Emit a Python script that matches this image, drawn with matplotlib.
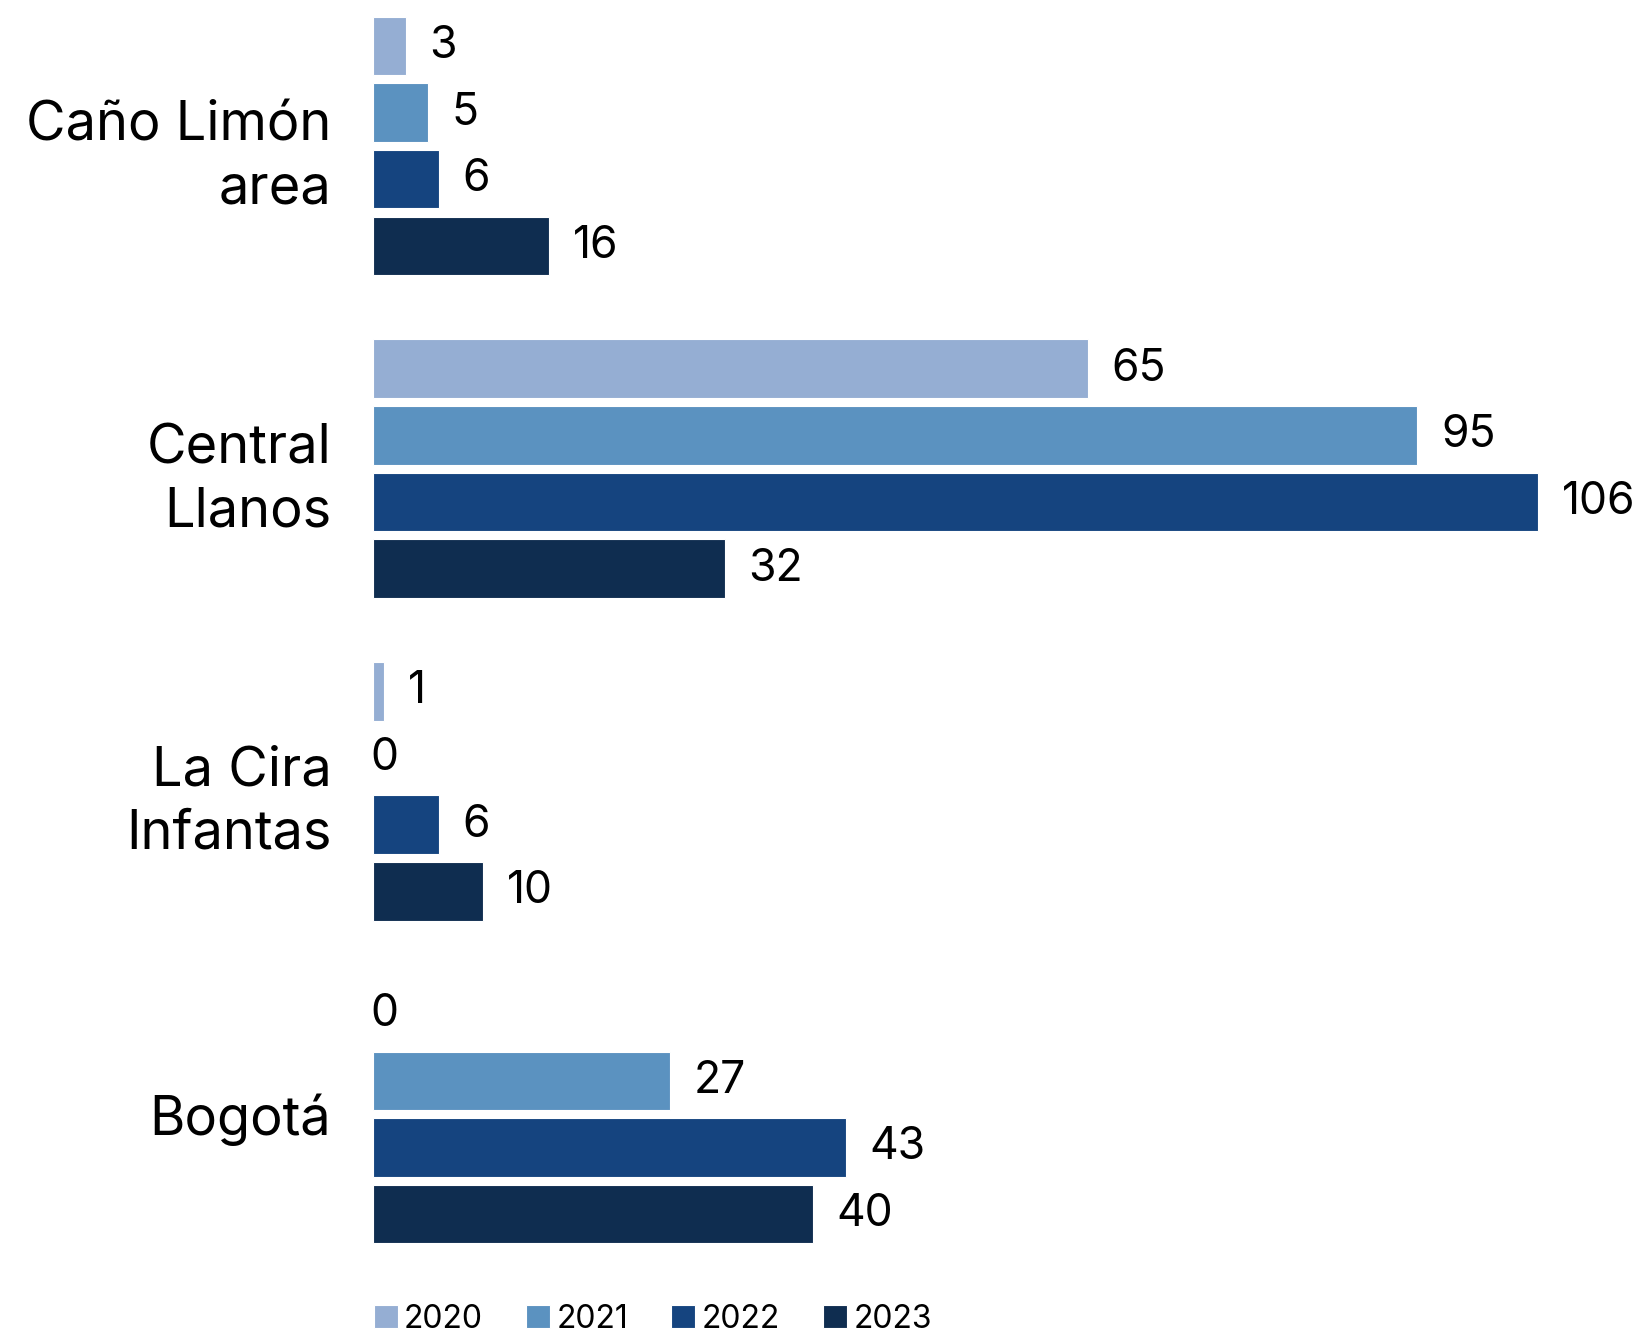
import numpy as np
import matplotlib
matplotlib.use('Agg')
import matplotlib.pyplot as plt

plt.rcParams['font.family'] = ['Inter', 'DejaVu Sans']

# data
areas = ['Caño Limón\narea', 'Central\nLlanos', 'La Cira\nInfantas', 'Bogotá']
years = ['2020', '2021', '2022', '2023']
v2020 = [3, 65, 1, 0]
v2021 = [5, 95, 0, 27]
v2022 = [6, 106, 6, 43]
v2023 = [16, 32, 10, 40]
colors = ['#95AED3', '#5B92C0', '#15447F', '#0F2D50']

series = [v2020, v2021, v2022, v2023]

fig = plt.figure(figsize=(16.34, 13.37), dpi=100)
ax = fig.add_axes([373 / 1634, 77 / 1337, 1 - 373 / 1634, 1260 / 1337])

y = np.arange(len(areas))
pitch = 0.2065
height = 0.181
for k, vals in enumerate(series):
    pos = y + (k - 1.5) * pitch
    ax.barh(pos, vals, height=height, color=colors[k],
            edgecolor='white', linewidth=0.8, label=years[k])
    # value labels, zeros sit right on the axis line
    for p, v in zip(pos, vals):
        off = 17 if v > 0 else -2
        ax.annotate(str(v), (v, p), xytext=(off, 0), textcoords='offset points',
                    ha='left', va='center', fontsize=32, color='black')

ax.set_xlim(0, 114.7)
ax.set_ylim(3.452, -0.452)
ax.set_yticks(y)
ax.set_yticklabels(areas, fontsize=39, linespacing=1.3)
ax.tick_params(axis='y', length=0, pad=30)
ax.set_xticks([])
for s in ax.spines.values():
    s.set_visible(False)

fig.legend(loc='center left', bbox_to_anchor=(361 / 1634, 18 / 1337), ncol=4,
           frameon=False, fontsize=23, handlelength=0.75, handleheight=0.75,
           handletextpad=0.2, columnspacing=1.35, borderaxespad=0)

fig.savefig('out.png', dpi=100)
